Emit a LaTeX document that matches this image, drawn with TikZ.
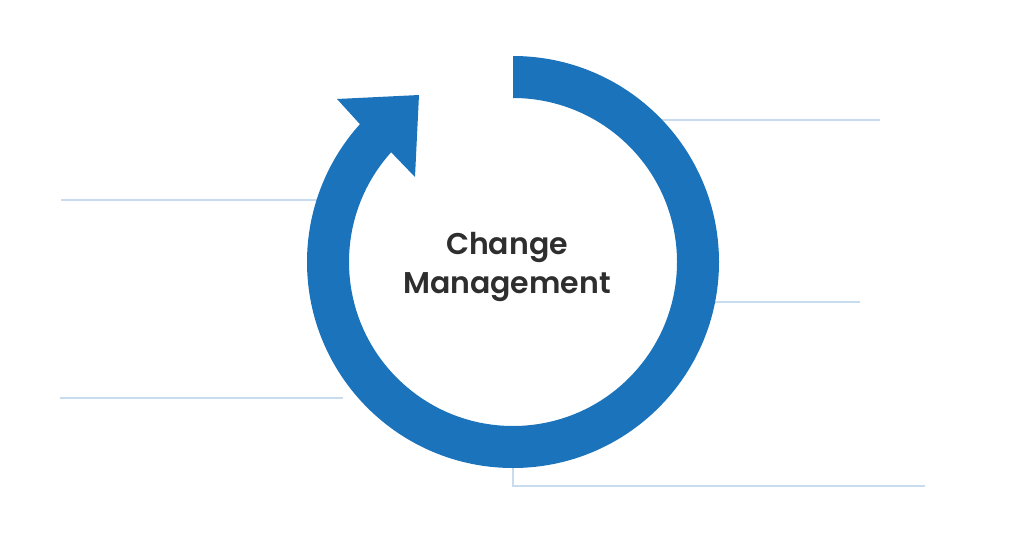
\documentclass[tikz,border=0pt]{standalone}
\usepackage{fontspec}
\newfontfamily\popfont{Poppins SemiBold}
\usetikzlibrary{calc}
\definecolor{ringblue}{HTML}{1B74BB}
\definecolor{leaderblue}{HTML}{C8DCEF}
\definecolor{textdark}{HTML}{2E2E2E}
\tikzset{
  leader/.style={draw=leaderblue, line width=1.1pt},
  ringfill/.style={fill=ringblue, draw=none},
  titletext/.style={font=\popfont\fontsize{22.5}{29}\selectfont, text=textdark, align=center, inner sep=0pt}
}
\begin{document}
\begin{tikzpicture}[x=0.75pt,y=-0.75pt]
\useasboundingbox (0,0) rectangle (1024,536);
\coordinate (c) at (513,262);
% leader lines
\coordinate (l1a) at (61,200);  \coordinate (l1b) at (330,200);
\coordinate (l2a) at (60,398);  \coordinate (l2b) at (343,398);
\coordinate (r1a) at (650,120); \coordinate (r1b) at (880,120);
\coordinate (r2a) at (700,302); \coordinate (r2b) at (860,302);
\coordinate (b0) at (513,440); \coordinate (b1) at (513,486); \coordinate (b2) at (925,486);
\draw[leader] (l1a) -- (l1b);
\draw[leader] (l2a) -- (l2b);
\draw[leader] (r1a) -- (r1b);
\draw[leader] (r2a) -- (r2b);
\draw[leader] (b0) -- (b1) -- (b2);
% ring with arrow
\coordinate (innerend) at ($(c)+(222:164)$);
\coordinate (h1) at (337,99);
\coordinate (htip) at (419,95);
\coordinate (h2) at (415,177);
\path[ringfill] (513,56) arc[start angle=270, end angle=582, radius=206]
  -- (h1) -- (htip) -- (h2) -- (innerend)
  arc[start angle=582, end angle=270, radius=164] -- cycle;
\node[titletext] (title) at (507,267) {Change\\Management};
\end{tikzpicture}
\end{document}
